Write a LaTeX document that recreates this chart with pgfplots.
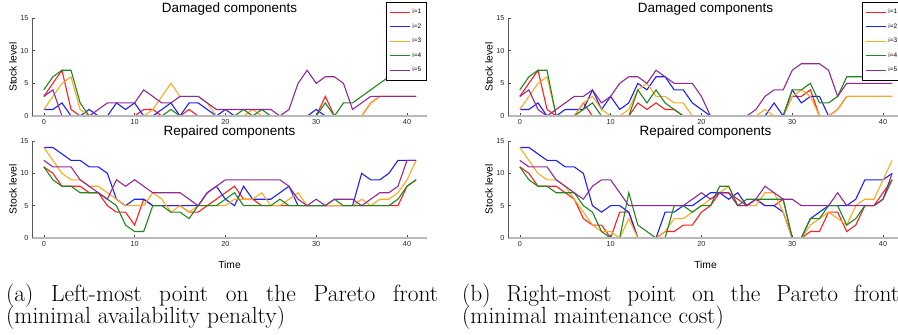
\documentclass[border=0pt]{standalone}
\usepackage{fontspec}
\setsansfont{Liberation Sans}
\usepackage{pgfplots}
\pgfplotsset{compat=1.18}
\usepackage{pgfplotstable}

\definecolor{cR}{RGB}{255,30,30}
\definecolor{cB}{RGB}{30,30,255}
\definecolor{cO}{RGB}{255,170,30}
\definecolor{cG}{RGB}{30,135,30}
\definecolor{cP}{RGB}{145,40,150}

% left, damaged
\pgfplotstableread{
t r b o g p
0 3 1 1 4 3
1 5 1 3 6 4
2 7 2 5 7 0
3 1 0 6 7 0
4 0 0 1 2 0
5 0 1 0 0 0
6 0 0 0 0 1
7 0 0 0 0 2
8 0 2 0 0 2
9 0 1 0 0 2
10 0 2 0 0 2
11 1 0 0 0 4
12 1 0 1 0 3
13 0 1 3 0 2
14 0 2 5 1 2
15 0 0 3 0 3
16 1 2 3 0 3
17 0 2 3 0 3
18 0 1 2 0 2
19 0 0 0 0 1
20 0 1 0 0 1
21 0 0 0 0 1
22 0 0 0 1 1
23 0 0 1 0 1
24 0 0 0 1 1
25 0 0 0 0 1
26 0 0 0 0 0
27 0 0 0 0 1
28 0 0 0 0 5
29 0 0 0 0 7
30 0 1 0 0 5
31 3 0 0 2 6
32 0 0 0 0 6
33 0 0 0 2 5
34 0 0 0 2 1
35 0 0 0 3 2
36 2 0 2 4 3
37 3 0 3 5 3
38 3 0 3 6 3
39 3 0 3 7 3
40 3 0 3 8 3
41 3 0 3 9 3
}\tabA

% left, repaired
\pgfplotstableread{
t r b o g p
0 11 14 14 11 12
1 10 14 12 9 11
2 8 13 10 8 11
3 8 12 9 8 11
4 8 12 9 7 9
5 7 11 8 7 8
6 7 11 8 7 7
7 5 10 7 6 6
8 4 6 6 5 9
9 4 5 5 2 8
10 2 6 5 1 9
11 6 6 5 1 8
12 5 5 7 5 7
13 5 5 6 5 7
14 5 5 4 4 7
15 5 5 5 4 7
16 4 5 4 3 6
17 4 5 5 5 5
18 5 7 5 5 7
19 6 8 5 5 8
20 7 6 5 6 9
21 8 5 6 7 9
22 6 8 6 5 9
23 6 6 6 5 9
24 5 6 7 5 9
25 5 6 5 5 9
26 5 7 5 6 9
27 5 8 6 5 8
28 5 5 7 5 6
29 5 5 5 5 5
30 5 5 5 5 6
31 5 5 5 5 5
32 5 5 5 6 6
33 5 5 5 5 6
34 5 5 5 5 6
35 5 10 6 5 5
36 5 9 5 5 6
37 5 9 6 5 7
38 5 10 6 5 7
39 5 12 7 6 8
40 8 12 9 8 12
41 9 12 12 9 12
}\tabB

% right, damaged
\pgfplotstableread{
t r b o g p
0 3 1 1 4 3
1 5 1 3 6 4
2 7 2 5 7 1
3 1 0 6 7 0
4 0 0 0 0 1
5 0 1 0 0 2
6 0 1 0 0 3
7 2 1 2 1 3
8 0 4 3 2 4
9 0 1 1 0 2
10 0 3 0 0 3
11 0 1 0 0 5
12 0 2 1 0 6
13 2 5 4 4 6
14 1 4 5 2 5
15 2 6 3 4 7
16 1 6 3 2 6
17 1 4 2 1 5
18 0 4 2 0 5
19 0 2 0 0 5
20 0 1 0 0 3
21 0 0 0 0 0
22 0 0 0 0 0
23 0 0 0 0 0
24 0 0 0 0 0
25 0 0 0 0 0
26 0 0 0 0 1
27 0 0 1 0 3
28 0 2 0 0 4
29 0 0 0 0 4
30 3 4 3 4 7
31 3 2 4 4 8
32 4 3 3 5 8
33 0 3 0 2 8
34 0 0 0 2 7
35 1 0 1 3 3
36 3 0 3 6 5
37 3 0 3 6 5
38 3 0 3 6 5
39 3 0 3 6 5
40 3 0 3 6 5
41 3 0 3 6 5
}\tabC

% right, repaired
\pgfplotstableread{
t r b o g p
0 11 14 14 11 12
1 10 14 12 9 11
2 8 13 10 8 11
3 8 12 9 8 11
4 8 12 9 7 9
5 7 11 8 7 8
6 6 11 6 7 7
7 3 10 4 5 6
8 2 5 2 4 8
9 2 4 1 1 9
10 0 5 1 0 9
11 4 5 0 0 7
12 4 4 3 7 5
13 0 0 0 2 5
14 0 0 0 1 5
15 0 0 0 0 5
16 1 4 1 0 5
17 1 4 3 5 5
18 2 5 3 5 5
19 2 5 4 4 6
20 4 6 5 5 7
21 5 7 6 5 6
22 7 7 7 8 7
23 7 6 8 8 7
24 6 7 5 5 5
25 5 5 5 6 5
26 6 6 5 6 6
27 5 5 7 6 8
28 5 5 7 6 7
29 6 4 4 6 6
30 0 0 0 0 6
31 0 0 0 0 5
32 1 3 2 3 5
33 1 4 3 3 5
34 4 5 4 5 5
35 4 5 3 5 7
36 1 5 2 2 5
37 2 6 5 3 5
38 5 9 6 5 5
39 5 9 6 5 5
40 7 9 9 6 6
41 9 10 12 9 10
}\tabD

\pgfplotsset{
  legend image code/.code={\draw[#1, line width=1.3bp] (0bp,0bp) -- (20bp,0bp);},
  panel/.style={
    scale only axis, width=395bp,
    xmin=-1.3, xmax=42.2, ymin=0, ymax=15,
    axis x line=bottom, axis y line=left,
    x axis line style={-, draw=gray!55, line width=1.6bp},
    y axis line style={-, draw=gray!70!black, line width=0.7bp},
    xtick={0,10,20,30,40}, ytick={0,5,10,15},
    tick align=inside, major tick length=3bp,
    tick style={gray!60!black, line width=0.5bp},
    ticklabel style={font=\sffamily\fontsize{7.3}{8}\selectfont, text=black!85},
    /pgf/number format/assume math mode=true,
    ylabel={Stock level},
    ylabel style={at={(axis description cs:-0.048,0.5)}, anchor=center,
      font=\sffamily\fontsize{10.3}{12}\selectfont},
    xlabel style={at={(axis description cs:0.5,-0.278)}, anchor=center,
      font=\sffamily\fontsize{10.3}{12}\selectfont},
    title style={at={(axis description cs:0.5,1)}, anchor=base,
      font=\sffamily\fontsize{13.5}{15}\selectfont},
    every axis plot/.append style={line width=1.1bp, mark=none},
    axis on top,
    legend style={at={(axis description cs:0.896,1.163)}, anchor=north west,
      draw=black, fill=white,
      font=\sffamily\fontsize{6.5}{7}\selectfont,
      inner xsep=3bp, inner ysep=5bp, row sep=4.3bp,
      cells={anchor=west}},
  },
}

\begin{document}
\begin{tikzpicture}[x=1bp,y=1bp]
\useasboundingbox (0,0) rectangle (898,334);
\clip (0,0) rectangle (898,334);

% ---------- left top
\begin{axis}[panel, height=98bp, at={(32bp,218bp)}, anchor=south west,
  title={Damaged components}]
\addplot[draw=cR] table[x=t,y=r]{\tabA}; \addlegendentry{i=1}
\addplot[draw=cB] table[x=t,y=b]{\tabA}; \addlegendentry{i=2}
\addplot[draw=cO] table[x=t,y=o]{\tabA}; \addlegendentry{i=3}
\addplot[draw=cG] table[x=t,y=g]{\tabA}; \addlegendentry{i=4}
\addplot[draw=cP] table[x=t,y=p]{\tabA}; \addlegendentry{i=5}
\end{axis}

% ---------- left bottom
\begin{axis}[panel, height=97bp, at={(32bp,96bp)}, anchor=south west,
  title={Repaired components}, xlabel={Time}]
\addplot[draw=cR] table[x=t,y=r]{\tabB};
\addplot[draw=cB] table[x=t,y=b]{\tabB};
\addplot[draw=cO] table[x=t,y=o]{\tabB};
\addplot[draw=cG] table[x=t,y=g]{\tabB};
\addplot[draw=cP] table[x=t,y=p]{\tabB};
\end{axis}

% ---------- right top
\begin{axis}[panel, height=98bp, at={(508bp,218bp)}, anchor=south west,
  title={Damaged components}]
\addplot[draw=cR] table[x=t,y=r]{\tabC}; \addlegendentry{i=1}
\addplot[draw=cB] table[x=t,y=b]{\tabC}; \addlegendentry{i=2}
\addplot[draw=cO] table[x=t,y=o]{\tabC}; \addlegendentry{i=3}
\addplot[draw=cG] table[x=t,y=g]{\tabC}; \addlegendentry{i=4}
\addplot[draw=cP] table[x=t,y=p]{\tabC}; \addlegendentry{i=5}
\end{axis}

% ---------- right bottom
\begin{axis}[panel, height=97bp, at={(508bp,96bp)}, anchor=south west,
  title={Repaired components}, xlabel={Time}]
\addplot[draw=cR] table[x=t,y=r]{\tabD};
\addplot[draw=cB] table[x=t,y=b]{\tabD};
\addplot[draw=cO] table[x=t,y=o]{\tabD};
\addplot[draw=cG] table[x=t,y=g]{\tabD};
\addplot[draw=cP] table[x=t,y=p]{\tabD};
\end{axis}

% ---------- captions
\node[anchor=base west, inner sep=0pt, font=\fontsize{23.5}{24}\selectfont] at (6,33)
  {\makebox[432bp][s]{(a) Left-most point on the Pareto front}};
\node[anchor=base west, inner sep=0pt, font=\fontsize{23.5}{24}\selectfont] at (6,11)
  {(minimal availability penalty)};
\node[anchor=base west, inner sep=0pt, font=\fontsize{23.5}{24}\selectfont] at (462,33)
  {\makebox[437bp][s]{(b) Right-most point on the Pareto front}};
\node[anchor=base west, inner sep=0pt, font=\fontsize{23.5}{24}\selectfont] at (462,11)
  {(minimal maintenance cost)};
\end{tikzpicture}
\end{document}
